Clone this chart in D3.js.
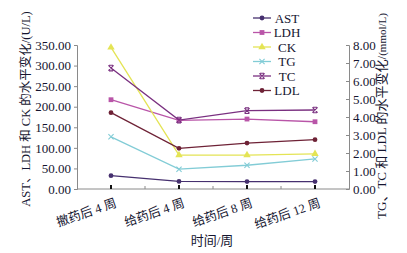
<!DOCTYPE html>
<html>
<head>
<meta charset="utf-8">
<script src="https://cdn.jsdelivr.net/npm/d3@7"></script>
<style>
  body { margin: 0; background: #fff; }
  text { font-family: "Liberation Serif", "Noto Sans CJK SC", serif; fill: #151530; }
</style>
</head>
<body>
<div id="viz_container"></div>
<script>
// categories and series values
const weeks = ["撤药后 4 周", "给药后 4 周", "给药后 8 周", "给药后 12 周"];
const leftTicks = [0, 50, 100, 150, 200, 250, 300, 350];
const rightTicks = [0, 1, 2, 3, 4, 5, 6, 7, 8];

const astValues = [32.5, 18.5, 18, 18];
const ldhValues = [217, 167, 170, 163.5];
const ckValues = [344, 82.5, 82.5, 85.5];
const tgValues = [2.9, 1.1, 1.32, 1.67];
const tcValues = [6.72, 3.83, 4.35, 4.39];
const ldlValues = [4.24, 2.26, 2.55, 2.74];

const seriesNames = ["AST", "LDH", "CK", "TG", "TC", "LDL"];

var drawChart = () => {
  const width = 407, height = 253;
  const svg = d3.select("#viz_container")
    .append("svg")
    .attr("width", width)
    .attr("height", height);

  // scales
  const x = d3.scalePoint().domain(weeks).range([77, 349]).padding(0.5);
  const yLeft = d3.scaleLinear().domain([0, 350]).range([189, 45]);
  const yRight = d3.scaleLinear().domain([0, 8]).range([189, 45]);

  const series = [
    {name: "AST", values: astValues, axis: yLeft, color: "#46306f", marker: "circle"},
    {name: "LDH", values: ldhValues, axis: yLeft, color: "#b955a8", marker: "square"},
    {name: "CK", values: ckValues, axis: yLeft, color: "#e4e455", marker: "triangle"},
    {name: "TG", values: tgValues, axis: yRight, color: "#82ccd6", marker: "cross"},
    {name: "TC", values: tcValues, axis: yRight, color: "#7a3080", marker: "star"},
    {name: "LDL", values: ldlValues, axis: yRight, color: "#6e2236", marker: "circle"}
  ];

  // left axis
  const gl = svg.append("g").attr("transform", "translate(77,0)")
    .call(d3.axisLeft(yLeft).tickValues(leftTicks).tickFormat(d3.format(".2f")).tickSize(3).tickPadding(3));
  gl.select(".domain").attr("stroke", "#8a8a8a");
  gl.selectAll(".tick line").attr("stroke", "#8a8a8a");
  gl.selectAll("text").style("font-size", "13px").style("font-family", "Liberation Serif").attr("fill", "#151530");

  // right axis, ticks point inward
  const gr = svg.append("g").attr("transform", "translate(349,0)")
    .call(d3.axisRight(yRight).tickValues(rightTicks).tickFormat(d3.format(".2f")).tickSize(-3).tickPadding(4));
  gr.select(".domain").attr("stroke", "#8a8a8a");
  gr.selectAll(".tick line").attr("stroke", "#8a8a8a");
  gr.selectAll("text").style("font-size", "13px").style("font-family", "Liberation Serif").attr("fill", "#151530");

  // bottom axis
  svg.append("line")
    .attr("x1", 77).attr("x2", 349).attr("y1", 189).attr("y2", 189)
    .attr("stroke", "#8a8a8a");
  const step = x.step();
  svg.append("g").selectAll("line")
    .data(weeks.slice(1))
    .join("line")
    .attr("x1", d => x(d) - step / 2).attr("x2", d => x(d) - step / 2)
    .attr("y1", 186).attr("y2", 189)
    .attr("stroke", "#8a8a8a");
  svg.append("g").selectAll("rect")
    .data(weeks)
    .join("rect")
    .attr("x", d => x(d) - 1).attr("y", 185)
    .attr("width", 2).attr("height", 4)
    .attr("fill", "#111");
  svg.append("g").selectAll("text")
    .data(weeks)
    .join("text")
    .attr("transform", d => `translate(${x(d) + 3},${197}) rotate(-19)`)
    .attr("text-anchor", "end")
    .attr("dy", "0.8em")
    .style("font-size", "12.5px")
    .text(d => d);

  // axis titles
  svg.append("text")
    .attr("transform", "translate(30,109) rotate(-90)")
    .attr("text-anchor", "middle")
    .style("font-size", "12.5px")
    .text("AST、LDH 和 CK 的水平变化/(U/L)");
  const rt = svg.append("text")
    .attr("transform", "translate(386,116) rotate(-90)")
    .attr("text-anchor", "middle")
    .style("font-size", "13px");
  rt.append("tspan").text("TG、TC 和 LDL 的水平变化/");
  rt.append("tspan").style("font-size", "11px").text("(mmol/L)");
  svg.append("text")
    .attr("x", 212).attr("y", 245)
    .attr("text-anchor", "middle")
    .style("font-size", "13px")
    .text("时间/周");

  // marker drawing
  const drawMarker = (g, type, color) => {
    if (type === "circle") {
      g.append("circle").attr("r", 2.4).attr("fill", color);
    } else if (type === "square") {
      g.append("rect").attr("x", -2.4).attr("y", -2.4).attr("width", 4.8).attr("height", 4.8).attr("fill", color);
    } else if (type === "triangle") {
      g.append("path").attr("d", d3.symbol(d3.symbolTriangle, 24)()).attr("fill", color);
    } else if (type === "cross") {
      g.append("path").attr("d", "M-2.6,-2.6L2.6,2.6M-2.6,2.6L2.6,-2.6")
        .attr("stroke", color).attr("stroke-width", 1.1).attr("fill", "none");
    } else if (type === "star") {
      g.append("path").attr("d", "M-2.6,-2.6L2.6,2.6M-2.6,2.6L2.6,-2.6M-2,-2.8L2,-2.8M-2,2.8L2,2.8")
        .attr("stroke", color).attr("stroke-width", 1.1).attr("fill", "none");
    }
  };

  // lines and points
  const plot = svg.append("g");
  series.forEach(s => {
    const line = d3.line()
      .x((d, i) => x(weeks[i]))
      .y(d => s.axis(d));
    plot.append("path")
      .datum(s.values)
      .attr("d", line)
      .attr("fill", "none")
      .attr("stroke", s.color)
      .attr("stroke-width", 1.3);
    s.values.forEach((v, i) => {
      const g = plot.append("g").attr("transform", `translate(${x(weeks[i])},${s.axis(v)})`);
      drawMarker(g, s.marker, s.color);
    });
  });

  // legend
  const legend = svg.append("g");
  series.forEach((s, i) => {
    const yy = 18 + i * 14.5;
    legend.append("line")
      .attr("x1", 253).attr("x2", 271).attr("y1", yy).attr("y2", yy)
      .attr("stroke", s.color).attr("stroke-width", 1.3);
    const g = legend.append("g").attr("transform", `translate(262,${yy})`);
    drawMarker(g, s.marker, s.color);
    legend.append("text")
      .attr("x", 287).attr("y", yy)
      .attr("dy", "0.35em")
      .attr("text-anchor", "middle")
      .style("font-size", "13px")
      .text(seriesNames[i]);
  });
}

drawChart();
</script>
</body>
</html>
